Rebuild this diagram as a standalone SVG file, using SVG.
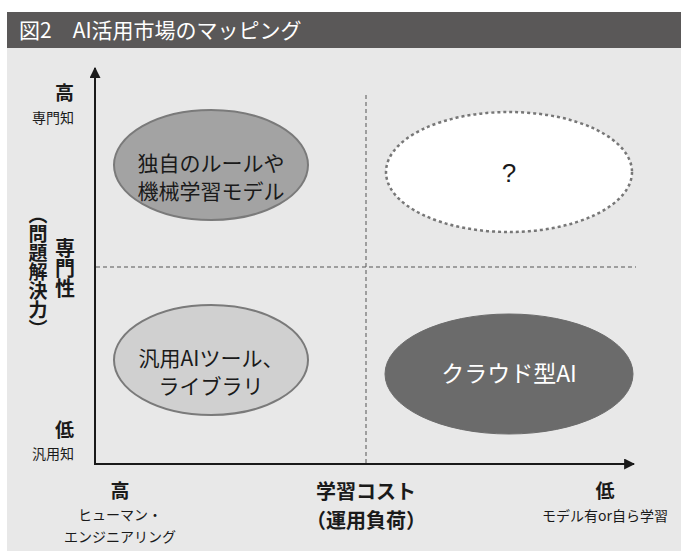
<svg xmlns="http://www.w3.org/2000/svg" width="681" height="551" viewBox="0 0 681 551">
<style>
text{font-family:"Noto Sans CJK JP","Noto Sans",sans-serif;fill:#1a1a1a}
.lbl{font-size:19px;font-weight:bold}
.sm{font-size:14px}
.node{font-size:21px;text-anchor:middle}
.axis{stroke:#1a1a1a;stroke-width:2;fill:none}
.grid{stroke:#555;stroke-width:1;stroke-dasharray:4 3;fill:none}
</style>
<defs>
<marker id="arr" viewBox="0 0 10 10" refX="9" refY="5" markerWidth="5.5" markerHeight="5.5" orient="auto" markerUnits="strokeWidth">
<path d="M0,0 L10,5 L0,10 z" fill="#1a1a1a"/>
</marker>
</defs>
<rect x="0" y="0" width="681" height="551" fill="#ffffff"/>
<rect x="7" y="48" width="674" height="503" fill="#e8e8e8"/>
<g id="title">
<rect x="7" y="12" width="674" height="36" fill="#5a5858"/>
<text x="19" y="38" style="font-size:21px;fill:#ffffff">図2　AI活用市場のマッピング</text>
</g>
<g id="connectors">
<line class="grid" x1="366" y1="95" x2="366" y2="463"/>
<line class="grid" x1="96" y1="267" x2="636" y2="267"/>
<line class="axis" x1="95" y1="464" x2="95" y2="68" marker-end="url(#arr)"/>
<line class="axis" x1="94" y1="464" x2="634" y2="464" marker-end="url(#arr)"/>
</g>
<g id="node-custom">
<ellipse cx="211" cy="165" rx="97" ry="55" fill="#a3a3a3" stroke="#7a7a7a" stroke-width="2"/>
<text class="node" x="211" y="171">独自のルールや</text>
<text class="node" x="211" y="199">機械学習モデル</text>
</g>
<g id="node-unknown">
<ellipse cx="509" cy="172" rx="123" ry="60" fill="#ffffff" stroke="#777" stroke-width="2.5" stroke-dasharray="3 3"/>
<text x="509" y="182" style="font-size:26px;text-anchor:middle;font-family:'Liberation Sans',sans-serif">?</text>
</g>
<g id="node-general">
<ellipse cx="211" cy="360" rx="97" ry="55" fill="#d0d0d0" stroke="#7a7a7a" stroke-width="2"/>
<text class="node" x="211" y="366">汎用AIツール、</text>
<text class="node" x="211" y="394">ライブラリ</text>
</g>
<g id="node-cloud">
<ellipse cx="509" cy="374" rx="124" ry="60" fill="#6b6b6b" stroke="#6b6b6b" stroke-width="1"/>
<text class="node" x="509" y="382" style="fill:#ffffff;font-size:23px">クラウド型AI</text>
</g>
<g id="y-labels">
<text class="lbl" x="74" y="100" text-anchor="end">高</text>
<text class="sm" x="74" y="123" text-anchor="end">専門知</text>
<text class="lbl" x="74" y="437" text-anchor="end">低</text>
<text class="sm" x="74" y="459" text-anchor="end">汎用知</text>
<text x="65" y="238" style="font-size:20px;font-weight:bold;writing-mode:vertical-rl">専門性</text>
<text x="38" y="205" style="font-size:19px;font-weight:bold;writing-mode:vertical-rl">（問題解決力）</text>
</g>
<g id="x-labels">
<text class="lbl" x="120" y="498" text-anchor="middle">高</text>
<text class="sm" x="120" y="520" text-anchor="middle">ヒューマン・</text>
<text class="sm" x="120" y="542" text-anchor="middle">エンジニアリング</text>
<text x="366" y="499" text-anchor="middle" style="font-size:20px;font-weight:bold">学習コスト</text>
<text x="366" y="528" text-anchor="middle" style="font-size:20px;font-weight:bold">（運用負荷）</text>
<text class="lbl" x="605" y="498" text-anchor="middle">低</text>
<text class="sm" x="605" y="521" text-anchor="middle">モデル有or自ら学習</text>
</g>
</svg>
